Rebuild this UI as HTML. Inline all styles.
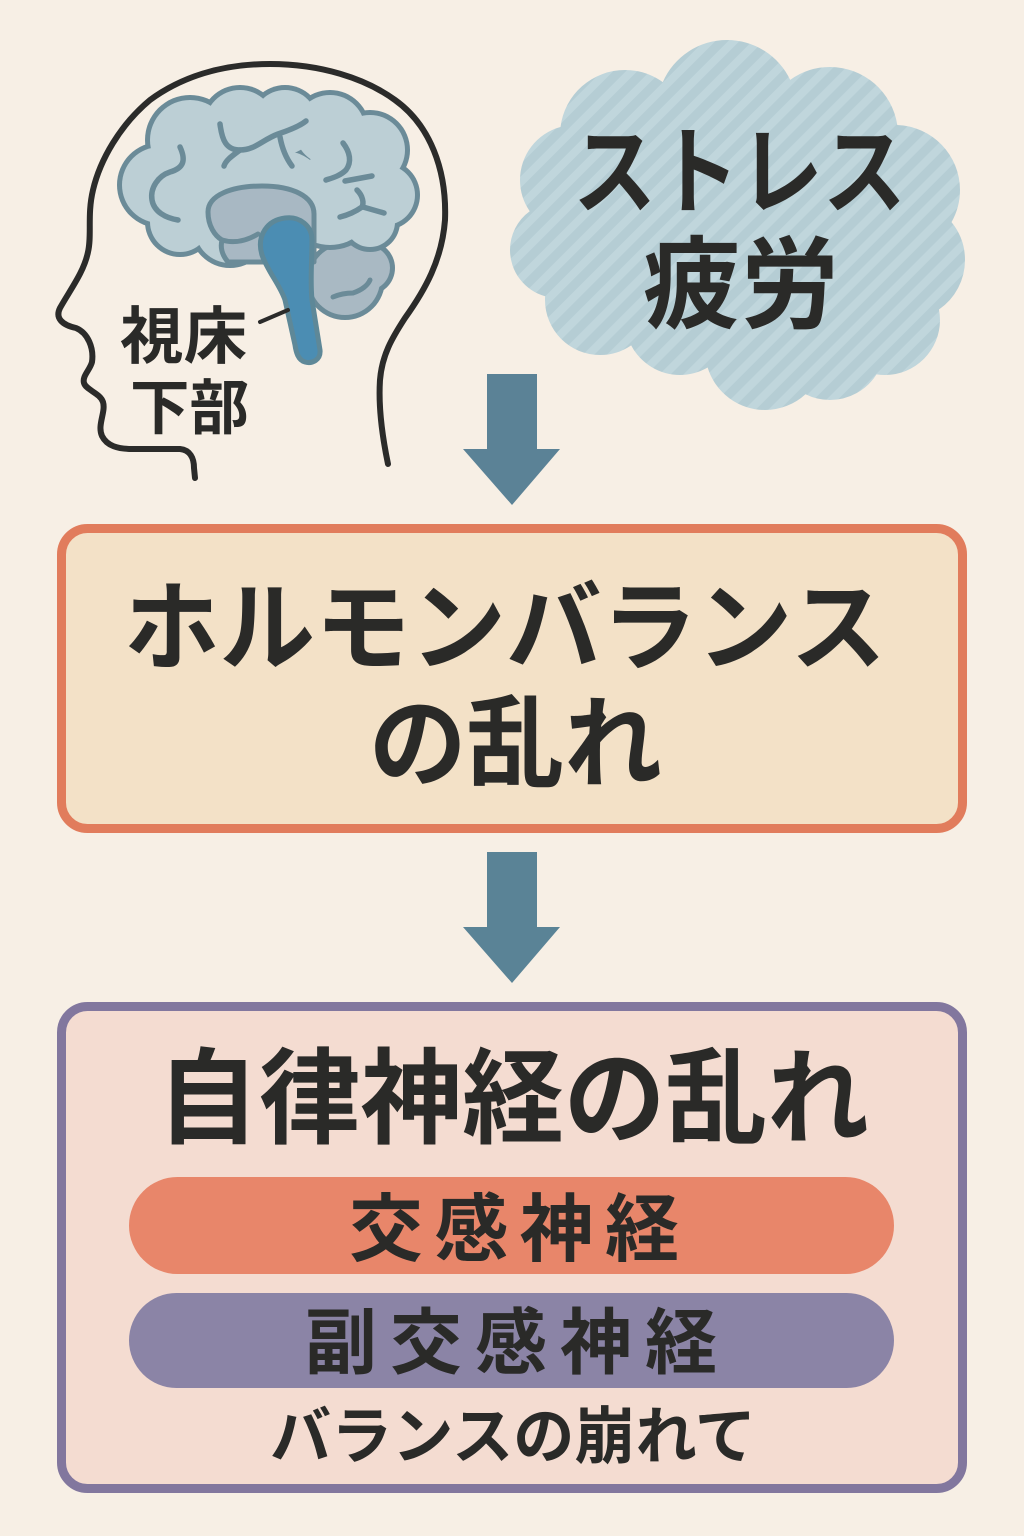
<!DOCTYPE html>
<html>
<head>
<meta charset="utf-8">
<style>
  html,body{margin:0;padding:0;background:#f7efe5;}
  body{width:1024px;height:1536px;overflow:hidden;}
  svg{display:block;}
  .t{font-family:"Liberation Sans","Noto Sans CJK JP",sans-serif;font-weight:700;fill:#2a2a28;}
</style>
</head>
<body>
<svg width="1024" height="1536" viewBox="0 0 1024 1536" xmlns="http://www.w3.org/2000/svg">
  <defs>
    <pattern id="stripes" width="17" height="17" patternUnits="userSpaceOnUse" patternTransform="rotate(45)">
      <rect width="17" height="17" fill="#b5cdd4"/>
      <rect width="8" height="17" fill="#c0d6dc"/>
    </pattern>
    <clipPath id="cloudclip">
      <circle cx="727" cy="110" r="70"/>
      <circle cx="625" cy="135" r="65"/>
      <circle cx="830" cy="135" r="68"/>
      <circle cx="895" cy="190" r="65"/>
      <circle cx="905" cy="260" r="60"/>
      <circle cx="885" cy="320" r="55"/>
      <circle cx="830" cy="345" r="55"/>
      <circle cx="765" cy="350" r="60"/>
      <circle cx="680" cy="320" r="55"/>
      <circle cx="600" cy="300" r="55"/>
      <circle cx="558" cy="250" r="48"/>
      <circle cx="575" cy="180" r="55"/>
      <ellipse cx="740" cy="230" rx="170" ry="130"/>
    </clipPath>
  </defs>

  <rect width="1024" height="1536" fill="#f7efe5"/>

  <!-- Cloud -->
  <rect x="490" y="20" width="500" height="410" fill="url(#stripes)" clip-path="url(#cloudclip)"/>
  <text class="t" x="573" y="206" font-size="96" textLength="333" lengthAdjust="spacingAndGlyphs">ストレス</text>
  <text class="t" x="643" y="320" font-size="100" textLength="196" lengthAdjust="spacingAndGlyphs">疲労</text>

  <!-- Head outline -->
  <path d="M388,464 C383,440 378,410 380,380 C382,355 392,338 405,318 C425,290 442,260 445,220 C447,170 430,125 395,100 C365,78 320,64 270,64 C220,64 180,78 150,100 C120,125 100,160 93,190 C87,215 92,235 88,252 C84,272 70,290 60,308 C55,318 62,325 76,328 C88,333 94,348 92,362 C90,370 82,376 84,383 C86,390 100,393 103,402 C106,412 97,425 102,436 C107,446 118,449 132,449 L180,449 C190,450 194,458 194,468 L195,478"
        fill="none" stroke="#2b2b2a" stroke-width="6" stroke-linecap="round" stroke-linejoin="round"/>

  <!-- Cerebellum (behind) -->
  <g>
    <g fill="#6b8b98">
      <circle cx="345" cy="280" r="40"/>
      <circle cx="368" cy="268" r="27"/>
    </g>
    <g fill="#a9b9c3">
      <circle cx="345" cy="280" r="35"/>
      <circle cx="368" cy="268" r="22"/>
    </g>
  </g>

  <!-- Cerebrum -->
  <g fill="#6b8b98">
    <circle cx="160" cy="185" r="43"/>
    <circle cx="190" cy="140" r="45"/>
    <circle cx="240" cy="125" r="40"/>
    <circle cx="285" cy="122" r="37"/>
    <circle cx="330" cy="130" r="40"/>
    <circle cx="370" cy="150" r="40"/>
    <circle cx="385" cy="195" r="35"/>
    <circle cx="370" cy="222" r="30"/>
    <circle cx="180" cy="222" r="35"/>
    <circle cx="230" cy="228" r="40"/>
    <circle cx="280" cy="200" r="55"/>
    <circle cx="330" cy="200" r="50"/>
    <circle cx="240" cy="175" r="55"/>
  </g>
  <g fill="#bccfd5">
    <circle cx="160" cy="185" r="38"/>
    <circle cx="190" cy="140" r="40"/>
    <circle cx="240" cy="125" r="35"/>
    <circle cx="285" cy="122" r="32"/>
    <circle cx="330" cy="130" r="35"/>
    <circle cx="370" cy="150" r="35"/>
    <circle cx="385" cy="195" r="30"/>
    <circle cx="370" cy="222" r="25"/>
    <circle cx="180" cy="222" r="30"/>
    <circle cx="230" cy="228" r="35"/>
    <circle cx="280" cy="200" r="50"/>
    <circle cx="330" cy="200" r="45"/>
    <circle cx="240" cy="175" r="50"/>
  </g>

  <!-- Sulci -->
  <g fill="none" stroke="#6b8b98" stroke-width="5.5" stroke-linecap="round" stroke-linejoin="round">
    <path d="M220,124 C222,140 226,150 240,150 C255,150 262,140 278,134 C290,130 300,126 306,121"/>
    <path d="M240,150 C232,156 226,160 224,166"/>
    <path d="M280,137 C282,148 286,158 292,166"/>
    <path d="M180,147 C186,160 184,168 170,172 C158,176 150,188 152,200 C154,212 166,218 178,220"/>
    <path d="M343,143 C350,152 352,162 346,170 C340,176 332,178 326,180"/>
    <path d="M345,181 L372,176"/>
    <path d="M357,190 C363,196 364,203 362,207 C355,212 348,215 340,217"/>
    <path d="M363,207 L384,213"/>
  </g>

  <!-- Limbic region -->
  <path d="M208,212 C208,195 232,186 262,186 C292,186 314,196 314,214 L314,262 L228,262 C222,255 220,248 222,240 C215,236 208,226 208,212 Z"
        fill="#a8b8c3" stroke="#6b8b98" stroke-width="5" stroke-linejoin="round"/>
  <path d="M222,240 C235,244 248,240 258,234" fill="none" stroke="#6b8b98" stroke-width="5" stroke-linecap="round"/>

  <!-- Cerebellum inner line -->
  <path d="M333,297 C340,294 348,293 353,293 C362,290 368,285 370,280" fill="none" stroke="#6b8b98" stroke-width="5" stroke-linecap="round"/>

  <!-- Brainstem -->
  <path d="M285,218 C300,216 312,226 312,240 C312,262 310,280 312,300 L320,350 C321,360 312,364 305,362 C298,360 296,352 295,345 L285,300 C280,285 268,272 262,255 C256,235 268,220 285,218 Z"
        fill="#4b8db3" stroke="#5e8898" stroke-width="5" stroke-linejoin="round"/>

  <!-- Label line -->
  <path d="M260,322 L288,310" stroke="#2b2b2a" stroke-width="4" stroke-linecap="round"/>
  <text class="t" x="120" y="358" font-size="62" textLength="127" lengthAdjust="spacingAndGlyphs">視床</text>
  <text class="t" x="130" y="429" font-size="60" textLength="119" lengthAdjust="spacingAndGlyphs">下部</text>

  <!-- Arrow 1 -->
  <polygon points="487,374 537,374 537,449 560,449 512,505 463,449 487,449" fill="#5b8296"/>

  <!-- Box 2 -->
  <rect x="61.5" y="528.5" width="901" height="300" rx="26" ry="26" fill="#f3e1c7" stroke="#e17c5c" stroke-width="9"/>
  <text class="t" x="124" y="662" font-size="98" textLength="762" lengthAdjust="spacingAndGlyphs">ホルモンバランス</text>
  <text class="t" x="369" y="779" font-size="100" textLength="293" lengthAdjust="spacingAndGlyphs">の乱れ</text>

  <!-- Arrow 2 -->
  <polygon points="487,852 537,852 537,927 560,927 512,983 463,927 487,927" fill="#5a8396"/>

  <!-- Box 3 -->
  <rect x="61.5" y="1006.5" width="901" height="482" rx="26" ry="26" fill="#f4dcd1" stroke="#82779e" stroke-width="9"/>
  <text class="t" x="157" y="1135" font-size="104" textLength="712" lengthAdjust="spacingAndGlyphs">自律神経の乱れ</text>

  <rect x="129" y="1177" width="765" height="97" rx="48.5" ry="48.5" fill="#e8866a"/>
  <text class="t" x="349" y="1255" font-size="74" textLength="330" lengthAdjust="spacing">交感神経</text>

  <rect x="129" y="1293" width="765" height="95" rx="47.5" ry="47.5" fill="#8b84a6"/>
  <text class="t" x="305" y="1368" font-size="72" textLength="412" lengthAdjust="spacing">副交感神経</text>

  <text class="t" x="270" y="1458" font-size="62" textLength="486" lengthAdjust="spacingAndGlyphs">バランスの崩れて</text>
</svg>
</body>
</html>
